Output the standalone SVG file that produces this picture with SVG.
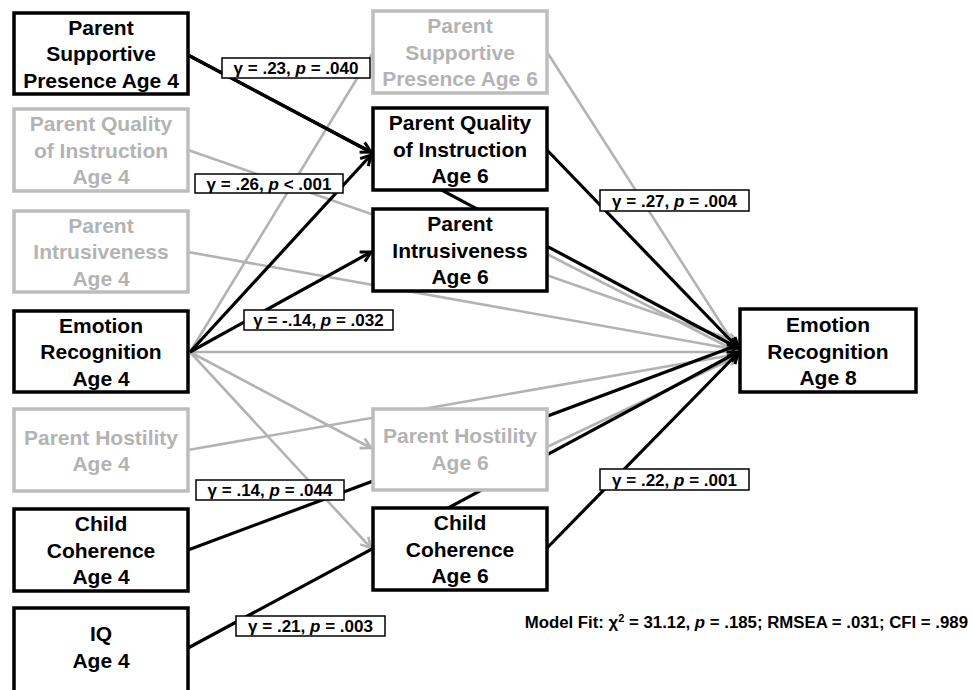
<svg xmlns="http://www.w3.org/2000/svg" width="972" height="690" viewBox="0 0 972 690">
<style>
  .nb{fill:#fff;stroke:#000;stroke-width:3.5}
  .ng{fill:#fff;stroke:#bdbdbd;stroke-width:3.5}
  .tb{font-family:"Liberation Sans",Arial,sans-serif;font-weight:bold;font-size:21px;fill:#000;text-anchor:middle}
  .tg{font-family:"Liberation Sans",Arial,sans-serif;font-weight:bold;font-size:21px;fill:#b3b3b3;text-anchor:middle}
  .cb{fill:none;stroke:#000;stroke-width:3.2}
  .cg{fill:none;stroke:#b3b3b3;stroke-width:2.6}
  .lb{fill:#fff;stroke:#000;stroke-width:1.5}
  .lt{font-family:"Liberation Sans",Arial,sans-serif;font-weight:bold;font-size:17px;fill:#000;text-anchor:middle}
  .fit{font-family:"Liberation Sans",Arial,sans-serif;font-weight:bold;font-size:16.8px;fill:#000;text-anchor:end}
</style>
<defs>
  <marker id="ab" viewBox="0 0 14 14" refX="12" refY="7" markerWidth="14" markerHeight="14" markerUnits="userSpaceOnUse" orient="auto">
    <path d="M2,1.5 L12,7 L2,12.5" fill="none" stroke="#000" stroke-width="3"/>
  </marker>
  <marker id="ag" viewBox="0 0 14 14" refX="12" refY="7" markerWidth="14" markerHeight="14" markerUnits="userSpaceOnUse" orient="auto">
    <path d="M2,1.5 L12,7 L2,12.5" fill="none" stroke="#b3b3b3" stroke-width="2.6"/>
  </marker>
</defs>

<g id="connectors">
  <g id="grey-paths">
    <line class="cg" x1="190" y1="352" x2="372" y2="54"/>
    <line class="cg" x1="547" y1="52" x2="738" y2="350" marker-end="url(#ag)"/>
    <line class="cg" x1="188" y1="150" x2="738" y2="342" marker-end="url(#ag)"/>
    <line class="cg" x1="188" y1="252" x2="738" y2="350" marker-end="url(#ag)"/>
    <line class="cg" x1="190" y1="352" x2="738" y2="352" marker-end="url(#ag)"/>
    <line class="cg" x1="190" y1="352" x2="371" y2="448" marker-end="url(#ag)"/>
    <line class="cg" x1="190" y1="352" x2="371" y2="548" marker-end="url(#ag)"/>
    <line class="cg" x1="188" y1="450" x2="738" y2="354" marker-end="url(#ag)"/>
    <line class="cg" x1="547" y1="447" x2="738" y2="356" marker-end="url(#ag)"/>
    <line class="cg" x1="547" y1="254" x2="738" y2="352" marker-end="url(#ag)"/>
  </g>
  <g id="black-paths">
    <line class="cb" x1="188" y1="55" x2="371" y2="152" marker-end="url(#ab)"/>
    <line class="cb" x1="188" y1="55" x2="738" y2="348" marker-end="url(#ab)"/>
    <line class="cb" x1="190" y1="352" x2="371" y2="155" marker-end="url(#ab)"/>
    <line class="cb" x1="190" y1="352" x2="371" y2="252" marker-end="url(#ab)"/>
    <line class="cb" x1="547" y1="150" x2="738" y2="348" marker-end="url(#ab)"/>
    <line class="cb" x1="188" y1="550" x2="738" y2="345" marker-end="url(#ab)"/>
    <line class="cb" x1="188" y1="648" x2="738" y2="352" marker-end="url(#ab)"/>
    <line class="cb" x1="547" y1="548" x2="738" y2="353" marker-end="url(#ab)"/>
  </g>
</g>

<g id="psp4"><rect class="nb" x="14" y="13" width="174" height="81"/>
  <text class="tb" x="101" y="34.5">Parent</text><text class="tb" x="101" y="61">Supportive</text><text class="tb" x="101" y="87.5">Presence Age 4</text></g>
<g id="pqi4"><rect class="ng" x="14" y="109" width="174" height="82"/>
  <text class="tg" x="101" y="131">Parent Quality</text><text class="tg" x="101" y="157.5">of Instruction</text><text class="tg" x="101" y="184">Age 4</text></g>
<g id="pi4"><rect class="ng" x="14" y="211" width="174" height="81"/>
  <text class="tg" x="101" y="232.5">Parent</text><text class="tg" x="101" y="259">Intrusiveness</text><text class="tg" x="101" y="285.5">Age 4</text></g>
<g id="er4"><rect class="nb" x="14" y="311" width="174" height="81"/>
  <text class="tb" x="101" y="332.5">Emotion</text><text class="tb" x="101" y="359">Recognition</text><text class="tb" x="101" y="385.5">Age 4</text></g>
<g id="ph4"><rect class="ng" x="14" y="409" width="174" height="82"/>
  <text class="tg" x="101" y="445">Parent Hostility</text><text class="tg" x="101" y="471">Age 4</text></g>
<g id="cc4"><rect class="nb" x="14" y="509" width="174" height="82"/>
  <text class="tb" x="101" y="531">Child</text><text class="tb" x="101" y="557.5">Coherence</text><text class="tb" x="101" y="584">Age 4</text></g>
<g id="iq4"><rect class="nb" x="14" y="608" width="174" height="95"/>
  <text class="tb" x="101" y="641">IQ</text><text class="tb" x="101" y="668">Age 4</text></g>

<g id="psp6"><rect class="ng" x="373" y="11" width="174" height="82"/>
  <text class="tg" x="460" y="33">Parent</text><text class="tg" x="460" y="59.5">Supportive</text><text class="tg" x="460" y="86">Presence Age 6</text></g>
<g id="pqi6"><rect class="nb" x="373" y="108" width="174" height="82"/>
  <text class="tb" x="460" y="130">Parent Quality</text><text class="tb" x="460" y="156.5">of Instruction</text><text class="tb" x="460" y="183">Age 6</text></g>
<g id="pi6"><rect class="nb" x="373" y="209" width="174" height="82"/>
  <text class="tb" x="460" y="231">Parent</text><text class="tb" x="460" y="257.5">Intrusiveness</text><text class="tb" x="460" y="284">Age 6</text></g>
<g id="ph6"><rect class="ng" x="373" y="409" width="174" height="81"/>
  <text class="tg" x="460" y="443">Parent Hostility</text><text class="tg" x="460" y="470">Age 6</text></g>
<g id="cc6"><rect class="nb" x="373" y="508" width="174" height="82"/>
  <text class="tb" x="460" y="530">Child</text><text class="tb" x="460" y="556.5">Coherence</text><text class="tb" x="460" y="583">Age 6</text></g>

<g id="er8"><rect class="nb" x="740" y="309" width="176" height="83"/>
  <text class="tb" x="828" y="332">Emotion</text><text class="tb" x="828" y="358.5">Recognition</text><text class="tb" x="828" y="385">Age 8</text></g>

<g id="labels">
  <rect class="lb" x="222" y="58" width="148" height="20"/>
  <text class="lt" x="296" y="74">γ = .23, <tspan font-style="italic">p</tspan> = .040</text>
  <rect class="lb" x="195" y="174" width="148" height="19"/>
  <text class="lt" x="269" y="189.5">γ = .26, <tspan font-style="italic">p</tspan> &lt; .001</text>
  <rect class="lb" x="244" y="310" width="149" height="20"/>
  <text class="lt" x="318.5" y="326">γ = -.14, <tspan font-style="italic">p</tspan> = .032</text>
  <rect class="lb" x="600" y="190" width="149" height="21"/>
  <text class="lt" x="674.5" y="206.5">γ = .27, <tspan font-style="italic">p</tspan> = .004</text>
  <rect class="lb" x="196" y="480" width="148" height="20"/>
  <text class="lt" x="270" y="496">γ = .14, <tspan font-style="italic">p</tspan> = .044</text>
  <rect class="lb" x="600" y="469" width="149" height="21"/>
  <text class="lt" x="674.5" y="485.5">γ = .22, <tspan font-style="italic">p</tspan> = .001</text>
  <rect class="lb" x="236" y="616" width="149" height="20"/>
  <text class="lt" x="310.5" y="632">γ = .21, <tspan font-style="italic">p</tspan> = .003</text>
</g>

<text id="model-fit" class="fit" x="968" y="628">Model Fit: χ<tspan font-size="11" dy="-6">2</tspan><tspan dy="6"> = 31.12, </tspan><tspan font-style="italic">p</tspan> = .185; RMSEA = .031; CFI = .989</text>
</svg>
